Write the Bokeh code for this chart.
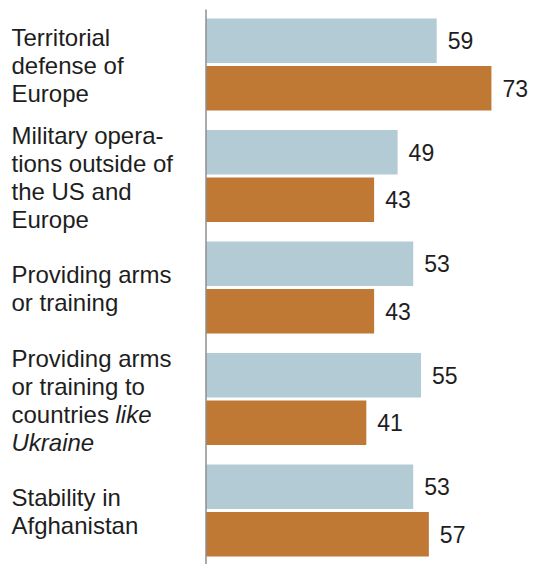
import numpy as np
from bokeh.plotting import figure
from bokeh.models import ColumnDataSource, Range1d
from bokeh.transform import dodge
from bokeh.embed import file_html
from bokeh.resources import INLINE
from bokeh.core.properties import value

# ---------------- data ----------------
categories = [
    "Territorial defense of Europe",
    "Military operations outside of the US and Europe",
    "Providing arms or training",
    "Providing arms or training to countries like Ukraine",
    "Stability in Afghanistan",
]
series_blue = [59, 49, 53, 55, 53]
series_orange = [73, 43, 43, 41, 57]

# label lines: each line is a list of (text, italic) segments
label_lines = [
    [[("Territorial", False)], [("defense of", False)], [("Europe", False)]],
    [[("Military opera-", False)], [("tions outside of", False)],
     [("the US and", False)], [("Europe", False)]],
    [[("Providing arms", False)], [("or training", False)]],
    [[("Providing arms", False)], [("or training to", False)],
     [("countries ", False), ("like", True)], [("Ukraine", True)]],
    [[("Stability in", False)], [("Afghanistan", False)]],
]

# ---------------- style ----------------
BLUE = "#b3cbd4"
ORANGE = "#c07935"
TEXT = "#1e1e1e"
FONT = "Liberation Sans"
FS = 24
VFS = 23
LINE_H = 28
W, H = 538, 564
PX_PER_UNIT = 3.91
ZERO_PX = 205.5
GROUP_PX = 111.5
FIRST_CENTER_PX = 64

# approx Arial/Liberation Sans advance widths (em) for offsets of inline segments
AW = dict(a=.556, b=.556, c=.5, d=.556, e=.556, f=.278, g=.556, h=.556, i=.222,
          j=.222, k=.5, l=.222, m=.833, n=.556, o=.556, p=.556, q=.556, r=.333,
          s=.5, t=.278, u=.556, v=.5, w=.722, x=.5, y=.5, z=.5)
AW[" "] = .278


def text_width(s):
    return sum(AW.get(ch, .6) for ch in s) * FS


x_start = -ZERO_PX / PX_PER_UNIT
x_end = (W - ZERO_PX) / PX_PER_UNIT
y_top = -FIRST_CENTER_PX / GROUP_PX
y_bottom = (H - FIRST_CENTER_PX) / GROUP_PX

p = figure(width=W, height=H, output_backend="svg", toolbar_location=None,
           x_range=Range1d(x_start, x_end), y_range=Range1d(y_bottom, y_top),
           x_axis_location=None, y_axis_location=None, min_border=0)
p.outline_line_color = None
p.xgrid.visible = False
p.ygrid.visible = False
p.background_fill_color = "white"
p.border_fill_color = "white"

idx = list(range(len(categories)))
src = ColumnDataSource(dict(
    idx=idx, blue=series_blue, orange=series_orange,
    blue_s=[str(v) for v in series_blue], orange_s=[str(v) for v in series_orange],
))

OFF = 0.213
BAR_H = 0.40

p.hbar(y=dodge("idx", -OFF, range=p.y_range), left=0, right="blue", height=BAR_H,
       source=src, fill_color=BLUE, line_color=None)
p.hbar(y=dodge("idx", OFF, range=p.y_range), left=0, right="orange", height=BAR_H,
       source=src, fill_color=ORANGE, line_color=None)

p.text(x="blue", y=dodge("idx", -OFF, range=p.y_range), text="blue_s", source=src,
       x_offset=11, text_baseline="middle", text_align="left",
       text_font=value(FONT), text_font_size=f"{VFS}px", text_color=TEXT)
p.text(x="orange", y=dodge("idx", OFF, range=p.y_range), text="orange_s", source=src,
       x_offset=11, text_baseline="middle", text_align="left",
       text_font=value(FONT), text_font_size=f"{VFS}px", text_color=TEXT)

# category labels
reg = dict(x=[], y=[], text=[], xo=[], yo=[])
ita = dict(x=[], y=[], text=[], xo=[], yo=[])
for gi, lines in enumerate(label_lines):
    n = len(lines)
    for li, segs in enumerate(lines):
        xo = 11.0
        for txt, is_it in segs:
            d = ita if is_it else reg
            d["x"].append(x_start)
            d["y"].append(gi)
            d["text"].append(txt)
            d["xo"].append(xo)
            d["yo"].append((li - (n - 1) / 2) * LINE_H + 1)
            xo += text_width(txt)

for d, style in ((reg, "normal"), (ita, "italic")):
    p.text(x="x", y="y", text="text", x_offset="xo", y_offset="yo",
           source=ColumnDataSource(d), text_baseline="middle", text_align="left",
           text_font=value(FONT), text_font_size=f"{FS}px", text_color=TEXT,
           text_font_style=style)

# vertical baseline axis line
p.segment(x0=[0], y0=[y_top + 9 / GROUP_PX], x1=[0], y1=[y_bottom],
          line_color="#8f8f8f", line_width=1.5)

open("out.html", "w").write(file_html(p, INLINE))
